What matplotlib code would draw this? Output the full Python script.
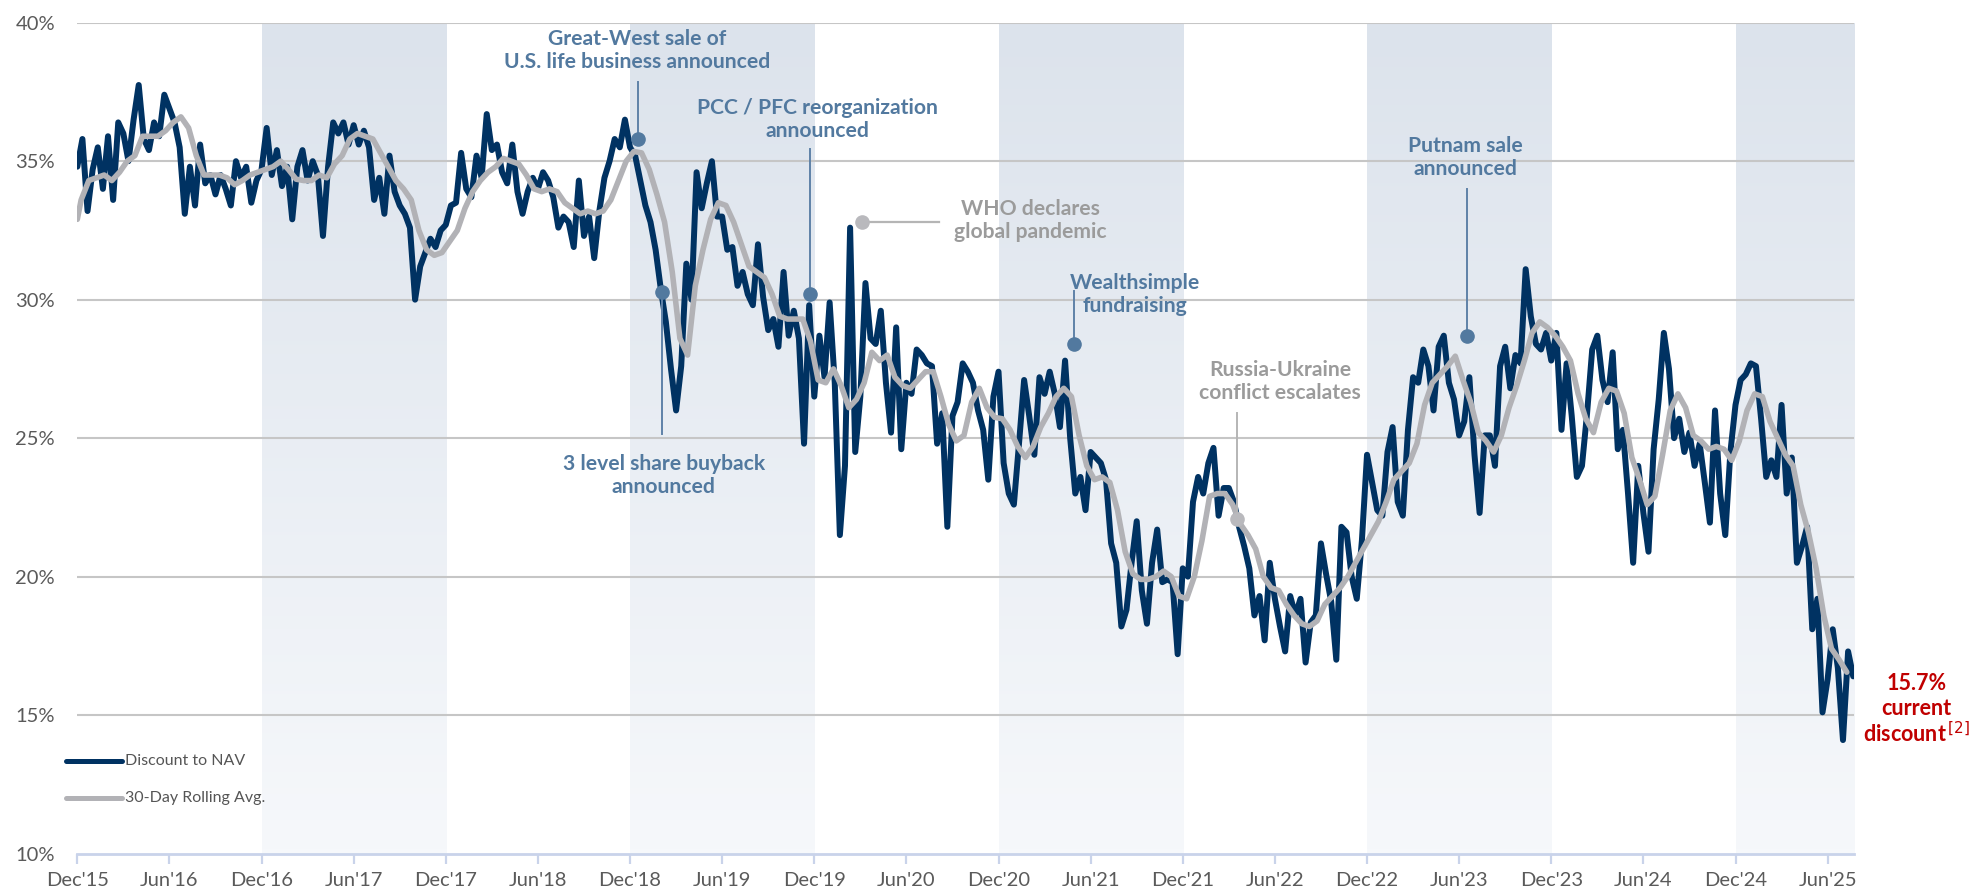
import numpy as np
import matplotlib
matplotlib.use("Agg")
import matplotlib.pyplot as plt
from matplotlib.colors import LinearSegmentedColormap

plt.rcParams['font.family'] = ['Lato', 'DejaVu Sans']

# ---------------- data ----------------
tick_labels = ["Dec'15", "Jun'16", "Dec'16", "Jun'17", "Dec'17", "Jun'18", "Dec'18",
               "Jun'19", "Dec'19", "Jun'20", "Dec'20", "Jun'21", "Dec'21", "Jun'22",
               "Dec'22", "Jun'23", "Dec'23", "Jun'24", "Dec'24", "Jun'25"]
y_ticks = [10, 15, 20, 25, 30, 35, 40]

# Discount to NAV (%), three readings per month starting Dec'15
nav_monthly = [
    [34.8, 35.8, 33.2], [34.7, 35.5, 34.0], [35.9, 33.6, 36.4], [36.0, 35.0, 36.5],
    [37.75, 35.8, 35.4], [36.4, 35.9, 37.4], [36.9, 36.4, 35.5], [33.1, 34.8, 33.4],
    [35.6, 34.2, 34.5], [33.8, 34.5, 34.0], [33.4, 35.0, 34.4], [34.8, 33.5, 34.3],
    [34.7, 36.2, 34.5], [35.4, 34.1, 34.8], [32.9, 34.8, 35.4], [34.3, 35.0, 34.5],
    [32.3, 34.8, 36.4], [36.0, 36.4, 35.6], [36.3, 35.6, 36.1], [35.5, 33.6, 34.4],
    [33.1, 35.2, 33.9], [33.4, 33.1, 32.6], [30.0, 31.2, 31.7], [32.2, 31.9, 32.5],
    [32.7, 33.4, 33.5], [35.3, 34.0, 33.7], [35.2, 34.4, 36.7], [35.4, 35.6, 34.6],
    [34.2, 35.6, 33.9], [33.1, 33.9, 34.4], [34.0, 34.6, 34.3], [33.7, 32.6, 33.0],
    [32.8, 31.9, 34.3], [32.3, 33.0, 31.5], [33.2, 34.4, 35.0], [35.8, 35.5, 36.5],
    [35.5, 35.2, 34.3], [33.4, 32.8, 31.8], [30.4, 29.2, 27.5], [26.0, 27.6, 31.3],
    [30.0, 34.6, 33.3], [34.2, 35.0, 33.0], [33.0, 31.8, 31.9], [30.5, 31.0, 30.2],
    [29.8, 32.0, 30.1], [28.9, 29.3, 28.3], [31.0, 28.7, 29.6], [28.6, 24.8, 29.8],
    [26.5, 28.7, 27.2], [29.9, 27.0, 21.5], [24.0, 32.6, 24.5], [26.5, 30.6, 28.6],
    [28.4, 29.6, 27.0], [25.2, 29.0, 24.6], [27.0, 26.6, 28.2], [28.0, 27.7, 27.6],
    [24.8, 25.9, 21.8], [25.8, 26.3, 27.7], [27.4, 27.0, 26.0], [25.3, 23.5, 26.5],
    [27.4, 24.1, 23.0], [22.6, 24.8, 27.1], [25.8, 24.4, 27.2], [26.6, 27.4, 26.6],
    [25.4, 27.8, 25.0], [23.0, 23.6, 22.4], [24.5, 24.3, 24.1], [23.5, 21.2, 20.5],
    [18.2, 18.8, 20.5], [22.0, 19.5, 18.3], [20.5, 21.7, 19.8], [19.9, 19.8, 17.2],
    [20.3, 20.0, 22.7], [23.6, 23.0, 24.1], [24.65, 22.2, 23.2], [23.2, 22.7, 21.8],
    [21.1, 20.3, 18.6], [19.3, 17.7, 20.5], [19.2, 18.2, 17.3], [19.3, 18.6, 19.2],
    [16.9, 18.35, 18.6], [21.2, 20.1, 19.1], [17.0, 21.8, 21.6], [20.0, 19.2, 21.3],
    [24.4, 23.4, 22.4], [22.2, 24.5, 25.4], [22.7, 22.2, 25.3], [27.2, 27.0, 28.2],
    [27.6, 26.0, 28.3], [28.7, 27.0, 26.4], [25.1, 25.6, 27.2], [24.4, 22.3, 25.1],
    [25.1, 24.0, 27.6], [28.3, 26.8, 28.0], [27.7, 31.1, 29.4], [28.4, 28.2, 28.8],
    [27.8, 28.8, 25.3], [27.7, 25.8, 23.6], [24.0, 25.9, 28.2], [28.7, 27.1, 26.3],
    [28.1, 24.6, 25.3], [23.0, 20.5, 24.0], [22.3, 20.9, 24.6], [26.4, 28.8, 27.5],
    [25.0, 25.7, 24.5], [25.2, 24.0, 24.8], [23.4, 21.95, 26.0], [23.0, 21.5, 24.5],
    [26.2, 27.1, 27.3], [27.7, 27.6, 25.7], [23.6, 24.2, 23.6], [26.2, 23.0, 24.3],
    [20.5, 21.1, 21.8], [18.1, 19.2, 15.1], [16.3, 18.1, 16.7], [14.1, 17.3, 16.4],
]

# 30-day rolling average (%), first value then two readings per month
ra_start = 32.9
ra_monthly = [
    [33.6, 34.3], [34.4, 34.5], [34.3, 34.6], [35.0, 35.2], [35.9, 35.9], [35.9, 36.1],
    [36.4, 36.6], [36.2, 35.2], [34.5, 34.5], [34.5, 34.4], [34.15, 34.3], [34.5, 34.6],
    [34.7, 34.8], [35.0, 34.7], [34.35, 34.3], [34.3, 34.5], [34.4, 34.9], [35.2, 35.8],
    [36.0, 35.9], [35.8, 35.3], [34.8, 34.3], [34.0, 33.6], [32.5, 31.8], [31.6, 31.7],
    [32.1, 32.5], [33.3, 33.9], [34.3, 34.6], [34.8, 35.1], [35.0, 34.9], [34.5, 34.0],
    [33.9, 34.0], [33.9, 33.5], [33.3, 33.1], [33.2, 33.1], [33.2, 33.6], [34.3, 35.0],
    [35.35, 35.3], [34.7, 33.8], [32.8, 31.0], [28.6, 28.0], [30.5, 31.8], [32.9, 33.5],
    [33.4, 32.8], [32.0, 31.2], [31.0, 30.8], [30.2, 29.4], [29.3, 29.3], [29.3, 28.5],
    [27.1, 27.0], [27.5, 26.9], [26.1, 26.4], [27.0, 28.1], [27.8, 28.0], [27.2, 26.9],
    [26.8, 27.1], [27.4, 27.4], [26.5, 25.5], [24.9, 25.1], [26.3, 26.8], [26.1, 25.75],
    [25.7, 25.3], [24.7, 24.3], [24.7, 25.4], [25.9, 26.5], [26.8, 26.5], [25.1, 24.0],
    [23.5, 23.6], [23.4, 22.4], [20.9, 20.1], [19.9, 19.9], [20.0, 20.2], [20.0, 19.3],
    [19.2, 20.0], [21.3, 22.9], [23.0, 23.0], [22.6, 21.9], [21.5, 21.0], [20.0, 19.6],
    [19.5, 19.0], [18.6, 18.3], [18.2, 18.4], [19.0, 19.3], [19.6, 20.0], [20.5, 21.0],
    [21.5, 22.0], [22.7, 23.5], [23.8, 24.1], [24.8, 26.2], [27.0, 27.3], [27.6, 27.96],
    [27.1, 26.3], [25.2, 24.9], [24.5, 25.1], [26.1, 26.9], [27.8, 28.8], [29.2, 29.0],
    [28.7, 28.3], [27.8, 26.6], [25.7, 25.2], [26.3, 26.8], [26.7, 25.9], [24.3, 23.5],
    [22.6, 22.9], [24.4, 26.0], [26.6, 26.1], [25.1, 24.9], [24.6, 24.7], [24.6, 24.2],
    [24.9, 26.0], [26.6, 26.5], [25.6, 25.0], [24.4, 24.0], [22.6, 21.6], [20.3, 18.6],
    [17.4, 17.0], [16.55],
]

shaded_years = [2017, 2019, 2021, 2023, 2025]

# events: (month index since Dec'15, discount %)
ev_greatwest = (36.5, 35.8)
ev_buyback = (38.1, 30.27)
ev_pcc = (47.7, 30.2)
ev_who = (51.1, 32.8)
ev_wealthsimple = (64.9, 28.4)
ev_russia = (75.5, 22.07)
ev_putnam = (90.5, 28.68)
current_discount = "15.7%"

# ---------------- build series ----------------
nav_x, nav_y = [], []
for m, vals in enumerate(nav_monthly):
    for j, v in enumerate(vals):
        nav_x.append(m + j / 3.0)
        nav_y.append(v)

ra_x, ra_y = [0.0], [ra_start]
for m, vals in enumerate(ra_monthly):
    for j, v in enumerate(vals):
        ra_x.append(m + 0.25 + j / 2.0)
        ra_y.append(v)

X_END = 115.72

# ---------------- figure ----------------
fig = plt.figure(figsize=(19.77, 8.93), dpi=100)
ax = fig.add_axes([0.0391, 0.0441, 0.8987, 0.9305])

cmap = LinearSegmentedColormap.from_list("band", ["#dce3ec", "#f6f8fb"])
grad = np.linspace(0, 1, 256).reshape(-1, 1)
for yr in shaded_years:
    a = (yr - 1 - 2015) * 12  # December of previous year
    b = min(a + 12, X_END)
    ax.imshow(grad, extent=(a, b, 10, 40), aspect='auto', cmap=cmap,
              origin='upper', zorder=0, interpolation='bicubic')

for y in y_ticks[1:]:
    ax.axhline(y, color='#c6c6c6', lw=1.5, zorder=1)

ax.plot(nav_x, nav_y, color='#003262', lw=4.3, solid_joinstyle='round',
        solid_capstyle='round', zorder=3)
ax.plot(ra_x, ra_y, color='#b2b2b6', lw=4.0, solid_joinstyle='round',
        solid_capstyle='round', zorder=4)

ax.set_xlim(0, X_END)
ax.set_ylim(10, 40)

for s in ['top', 'right', 'left']:
    ax.spines[s].set_visible(False)
ax.spines['bottom'].set_color('#c9d3ea')
ax.spines['bottom'].set_linewidth(2)
ax.set_xticks(np.arange(0, 115, 6))
ax.set_xticklabels(tick_labels)
ax.set_yticks(y_ticks)
ax.set_yticklabels([f"{t}%" for t in y_ticks])
ax.tick_params(axis='x', colors='#c9d3ea', length=7, width=1.6, pad=6,
               labelsize=14.5, labelcolor='#5a5a5a')
ax.tick_params(axis='y', length=0, pad=16, labelsize=14.5, labelcolor='#5a5a5a')

blue = '#52799f'
blue_line = '#5f82a8'
grey_txt = '#9b9b9b'
grey_mk = '#b9b9bd'
afs = 15.2

# Great-West
ax.plot([ev_greatwest[0]] * 2, [ev_greatwest[1], 37.85], color=blue_line, lw=1.4, zorder=5)
ax.plot(*ev_greatwest, 'o', ms=9.5, color=blue, zorder=6)
ax.text(36.45, 39.0, "Great-West sale of\nU.S. life business announced", ha='center',
        va='center', fontsize=afs, fontweight='bold', color=blue, linespacing=1.2)

# 3 level share buyback
ax.plot([ev_buyback[0]] * 2, [ev_buyback[1], 25.15], color=blue_line, lw=1.4, zorder=5)
ax.plot(*ev_buyback, 'o', ms=9.5, color=blue, zorder=6)
ax.text(38.2, 23.66, "3 level share buyback\nannounced", ha='center', va='center',
        fontsize=afs, fontweight='bold', color=blue, linespacing=1.2)

# PCC / PFC
ax.plot([ev_pcc[0]] * 2, [ev_pcc[1], 35.45], color=blue_line, lw=1.4, zorder=5)
ax.plot(*ev_pcc, 'o', ms=9.5, color=blue, zorder=6)
ax.text(48.2, 36.5, "PCC / PFC reorganization\nannounced", ha='center', va='center',
        fontsize=afs, fontweight='bold', color=blue, linespacing=1.2)

# WHO
ax.plot([ev_who[0], 56.1], [ev_who[1]] * 2, color='#b5b5b5', lw=1.6, zorder=5)
ax.plot(*ev_who, 'o', ms=9.5, color=grey_mk, zorder=6)
ax.text(62.1, 32.87, "WHO declares\nglobal pandemic", ha='center', va='center',
        fontsize=afs, fontweight='bold', color=grey_txt, linespacing=1.2)

# Wealthsimple
ax.plot([ev_wealthsimple[0]] * 2, [ev_wealthsimple[1], 30.3], color=blue_line, lw=1.4, zorder=5)
ax.plot(*ev_wealthsimple, 'o', ms=9.5, color=blue, zorder=6)
ax.text(68.9, 30.18, "Wealthsimple\nfundraising", ha='center', va='center',
        fontsize=afs, fontweight='bold', color=blue, linespacing=1.2)

# Russia-Ukraine
ax.plot([ev_russia[0]] * 2, [ev_russia[1], 25.9], color='#b5b5b5', lw=1.4, zorder=5)
ax.plot(*ev_russia, 'o', ms=9.5, color=grey_mk, zorder=6)
ax.text(78.35, 27.05, "Russia-Ukraine\nconflict escalates", ha='center', va='center',
        fontsize=afs, fontweight='bold', color=grey_txt, linespacing=1.2)

# Putnam
ax.plot([ev_putnam[0]] * 2, [ev_putnam[1], 34.0], color=blue_line, lw=1.4, zorder=5)
ax.plot(*ev_putnam, 'o', ms=9.5, color=blue, zorder=6)
ax.text(90.4, 35.12, "Putnam sale\nannounced", ha='center', va='center',
        fontsize=afs, fontweight='bold', color=blue, linespacing=1.2)

# current discount
red = '#c00000'
ax.text(119.8, 16.15, current_discount, ha='center', va='center', fontsize=15.5,
        fontweight='bold', color=red, clip_on=False)
ax.text(119.8, 15.25, "current", ha='center', va='center', fontsize=15.5,
        fontweight='bold', color=red, clip_on=False)
ax.text(119.8, 14.35, r"discount$^{\,[2]}$", ha='center', va='center', fontsize=15.5,
        fontweight='bold', color=red, clip_on=False)

# legend
for yv, col, lab in [(13.35, '#003262', "Discount to NAV"),
                     (11.99, '#b2b2b6', "30-Day Rolling Avg.")]:
    ax.plot([-0.74, 2.9], [yv, yv], color=col, lw=3.6, solid_capstyle='round',
            clip_on=False, zorder=6)
    ax.text(3.1, yv, lab, ha='left', va='center', fontsize=11.5, color='#555555')

fig.savefig("out.png", dpi=100)
